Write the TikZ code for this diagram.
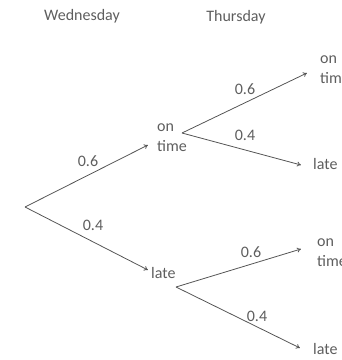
\documentclass[tikz,border=0pt]{standalone}
\usepackage{fontspec}
\setmainfont{Carlito}
\usetikzlibrary{arrows.meta}
\definecolor{txt}{HTML}{5E5E5E}
\definecolor{ln}{HTML}{555555}
\begin{document}
\begin{tikzpicture}[x=1pt,y=-1pt,
  lbl/.style={text=txt,font=\fontsize{16}{20}\selectfont,inner sep=0pt},
  outcome/.style={lbl,anchor=west,align=left},
  branch/.style={draw=ln,line width=0.8pt,-{To[length=4pt,width=5pt]}}]
\useasboundingbox (0,0) rectangle (342,360);
\clip (0,0) rectangle (342,360);
% headers
\node[lbl] (wed) at (82,16) {Wednesday};
\node[lbl] (thu) at (236,17) {Thursday};
% root and branch points
\coordinate (root) at (25,207);
\coordinate (b1) at (182,133);
\coordinate (b2) at (176,287);
% first level
\node[outcome] (ot1) at (157,138) {on\\time};
\node[outcome] (l1) at (151,273) {late};
\coordinate (t1) at (148,145);
\coordinate (t2) at (148,270);
\draw[branch] (root) -- (t1);
\draw[branch] (root) -- (t2);
\node[lbl] (p1) at (88,161) {0.6};
\node[lbl] (p2) at (93,225) {0.4};
% second level from on time
\node[outcome] (ot2) at (320,70) {on\\time};
\node[outcome] (l2) at (313,164) {late};
\coordinate (t3) at (307,73);
\coordinate (t4) at (301,165);
\draw[branch] (b1) -- (t3);
\draw[branch] (b1) -- (t4);
\node[lbl] (p3) at (245,89) {0.6};
\node[lbl] (p4) at (245,135) {0.4};
% second level from late
\node[outcome] (ot3) at (317,253) {on\\time};
\node[outcome] (l3) at (313,349) {late};
\coordinate (t5) at (301,249);
\coordinate (t6) at (300,348);
\draw[branch] (b2) -- (t5);
\draw[branch] (b2) -- (t6);
\node[lbl] (p5) at (251,252) {0.6};
\node[lbl] (p6) at (257,316) {0.4};
\end{tikzpicture}
\end{document}
